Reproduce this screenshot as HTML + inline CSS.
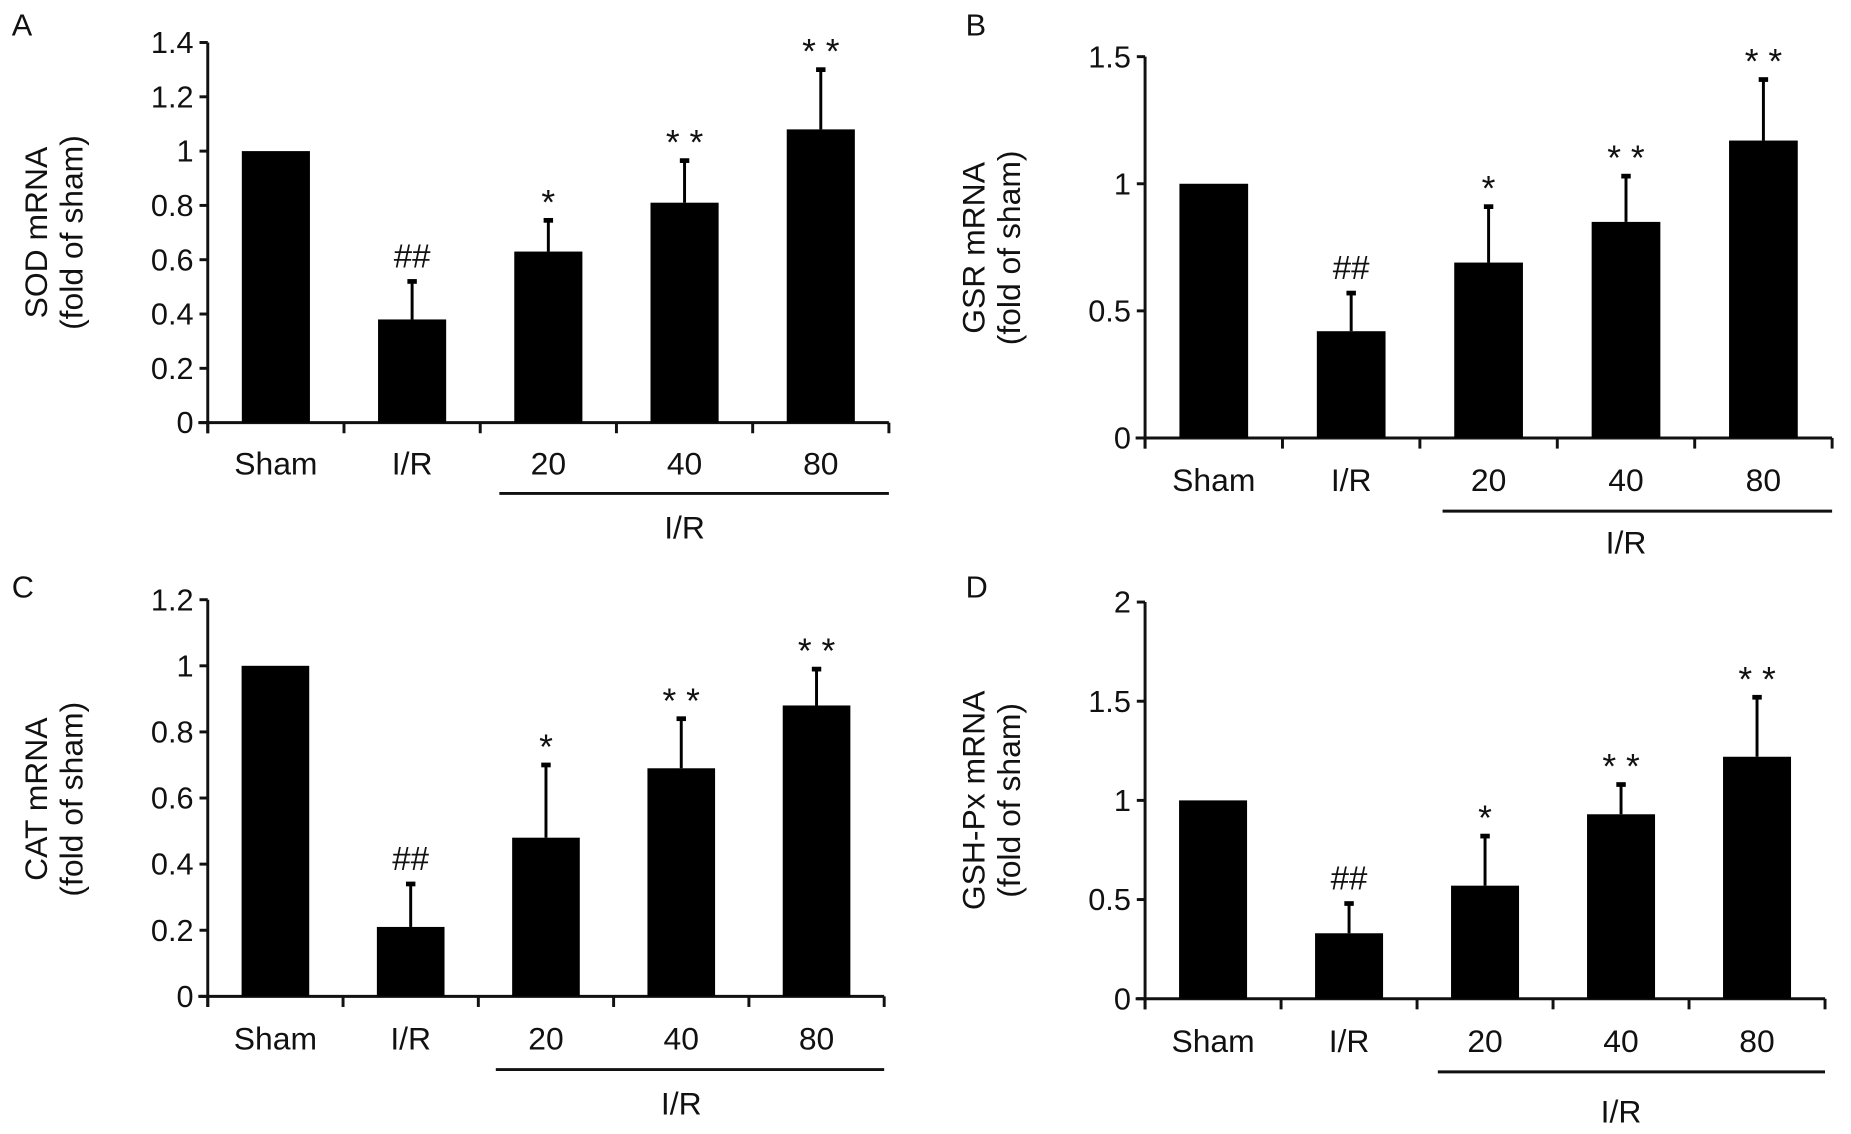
<!DOCTYPE html>
<html><head><meta charset="utf-8"><style>
html,body{margin:0;padding:0;background:#fff;}
svg{display:block;}
text{font-family:"Liberation Sans",Arial,sans-serif;fill:#111;}
</style></head><body>
<svg id="fig" width="1851" height="1134" viewBox="0 0 1568 960.6" preserveAspectRatio="none" xmlns="http://www.w3.org/2000/svg"></svg>
<script>
const categories = ["Sham","I/R","20","40","80"];
const sodValues = [1.0,0.38,0.63,0.81,1.08];
const sodErrors = [null,0.52,0.745,0.965,1.30];
const gsrValues = [1.0,0.42,0.69,0.85,1.17];
const gsrErrors = [null,0.57,0.91,1.03,1.41];
const catValues = [1.0,0.21,0.48,0.69,0.88];
const catErrors = [null,0.34,0.70,0.84,0.99];
const gpxValues = [1.0,0.33,0.57,0.93,1.22];
const gpxErrors = [null,0.48,0.82,1.08,1.52];
const marks = ["","##","*","**","**"];
const sodTicks = ["0","0.2","0.4","0.6","0.8","1","1.2","1.4"];
const gsrTicks = ["0","0.5","1","1.5"];
const catTicks = ["0","0.2","0.4","0.6","0.8","1","1.2"];
const gpxTicks = ["0","0.5","1","1.5","2"];

const NS="http://www.w3.org/2000/svg";
const svg=document.getElementById('fig');
function mk(tag,attrs,parent){const e=document.createElementNS(NS,tag);for(const k in attrs)e.setAttribute(k,attrs[k]);(parent||svg).appendChild(e);return e;}

const panels=[
 {id:'sod',letter:'A',lx:10,ly:30,ax:176,ay0:358,ayTop:36,axEnd:753,tl1:"SOD mRNA",titleX:40,titleY:197,vals:sodValues,errs:sodErrors,ticks:sodTicks,tMax:1.4,labY:402,ulY:418,ulX1:423,irY:456},
 {id:'gsr',letter:'B',lx:818,ly:30,ax:970,ay0:371,ayTop:48,axEnd:1552,tl1:"GSR mRNA",titleX:834,titleY:210,vals:gsrValues,errs:gsrErrors,ticks:gsrTicks,tMax:1.5,labY:416,ulY:433,ulX1:1222,irY:469},
 {id:'cat',letter:'C',lx:10,ly:506,ax:176,ay0:844,ayTop:508,axEnd:749,tl1:"CAT mRNA",titleX:40,titleY:677,vals:catValues,errs:catErrors,ticks:catTicks,tMax:1.2,labY:889,ulY:906,ulX1:420,irY:944},
 {id:'gpx',letter:'D',lx:818,ly:506,ax:970,ay0:846,ayTop:510,axEnd:1546,tl1:"GSH-Px mRNA",titleX:834,titleY:678,vals:gpxValues,errs:gpxErrors,ticks:gpxTicks,tMax:2,labY:891,ulY:908,ulX1:1218,irY:951}
];

panels.forEach(p=>{
 const g=mk('g',{});
 
 
 const yScale=v=>p.ay0-(v/p.tMax)*(p.ay0-p.ayTop);
 const step=(p.axEnd-p.ax)/categories.length;
 const xCenter=i=>p.ax+step*(i+0.5);
 const letter=mk('text',{x:p.lx,y:p.ly,'font-size':26},g);letter.textContent=p.letter;
 
 
 const t=mk('text',{transform:`translate(${p.titleX},${p.titleY}) rotate(-90)`,'font-size':27,'text-anchor':'middle'},g);
 const s1=mk('tspan',{x:0,dy:0},t);s1.textContent=p.tl1;
 const s2=mk('tspan',{x:0,dy:30},t);s2.textContent="(fold of sham)";
 
 
 const ya=mk('line',{x1:p.ax,y1:p.ayTop,x2:p.ax,y2:p.ay0+9,stroke:'#111','stroke-width':2.5},g);
 
 
 const xa=mk('line',{x1:p.ax-8,y1:p.ay0,x2:p.axEnd,y2:p.ay0,stroke:'#111','stroke-width':2.5},g);
 
 
 p.ticks.forEach(tk=>{
  const y=yScale(parseFloat(tk));
  mk('line',{x1:p.ax-7,y1:y,x2:p.ax,y2:y,stroke:'#111','stroke-width':2.5},g);
  const tl=mk('text',{x:p.ax-12,y:y+9,'font-size':26,'text-anchor':'end'},g);tl.textContent=tk;
  
  
 });
 for(let i=0;i<=categories.length;i++){const x=p.ax+step*i;mk('line',{x1:x,y1:p.ay0,x2:x,y2:p.ay0+9,stroke:'#111','stroke-width':2.5},g);}
 categories.forEach((c,i)=>{
  const cx=xCenter(i), bw=step*0.5;
  const r=mk('rect',{x:cx-bw/2,y:yScale(p.vals[i]),width:bw,height:p.ay0-yScale(p.vals[i]),fill:'#000'},g);
  
  
  let topY=yScale(p.vals[i]);
  if(p.errs[i]!=null){
   const ey=yScale(p.errs[i]);
   mk('line',{x1:cx,y1:yScale(p.vals[i]),x2:cx,y2:ey,stroke:'#000','stroke-width':2.5},g);
   mk('line',{x1:cx-4,y1:ey,x2:cx+4,y2:ey,stroke:'#000','stroke-width':4},g);
   topY=ey;
  }
  if(marks[i]){
   const m=mk('text',{x:cx,y:marks[i]==='##'?topY-12:topY-5,'font-size':marks[i]==='##'?28:30,'text-anchor':'middle'},g);
   m.textContent=marks[i]==='**'?'* *':marks[i];
   
   
  }
  const l=mk('text',{x:cx,y:p.labY,'font-size':27,'text-anchor':'middle'},g);l.textContent=c;
  
  
 });
 const ul=mk('line',{x1:p.ulX1,y1:p.ulY,x2:p.axEnd,y2:p.ulY,stroke:'#111','stroke-width':2.5},g);
 
 
 const ir=mk('text',{x:(xCenter(2)+xCenter(4))/2,y:p.irY,'font-size':27,'text-anchor':'middle'},g);ir.textContent="I/R";
 
 
});
</script>
</body></html>
